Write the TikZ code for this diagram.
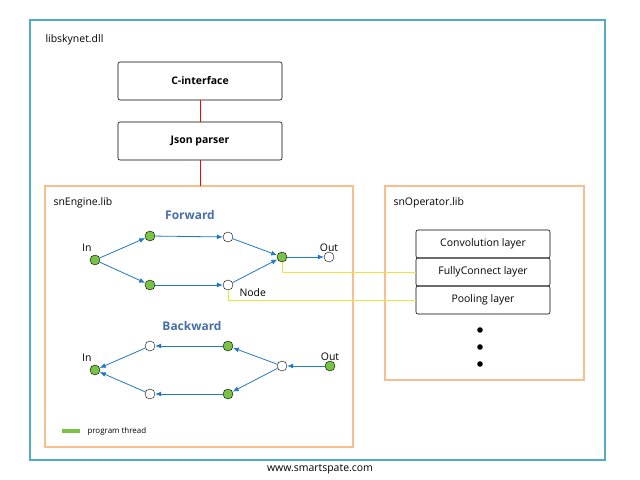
\documentclass[tikz,border=0pt]{standalone}
\usepackage{fontspec}
\setmainfont{Open Sans}
\usetikzlibrary{arrows.meta}
\definecolor{frameblue}{RGB}{80,170,205}
\definecolor{liborange}{RGB}{250,190,140}
\definecolor{arrowblue}{RGB}{30,120,200}
\definecolor{titleblue}{RGB}{70,110,170}
\definecolor{dotgreen}{RGB}{120,195,70}
\definecolor{wireyellow}{RGB}{240,225,60}
\newcommand{\lbl}{\fontsize{10.5}{12}\selectfont}
\tikzset{
  box/.style={draw=black, semithick, rounded corners=2pt, minimum width=164bp, minimum height=38bp, font=\bfseries\lbl},
  layer/.style={draw=black, semithick, rounded corners=2pt, minimum width=134bp, minimum height=28bp, font=\lbl},
  gnode/.style={circle, draw=black, fill=dotgreen, minimum size=10bp, inner sep=0pt},
  wnode/.style={circle, draw=black, fill=white, minimum size=10bp, inner sep=0pt},
  flow/.style={-{Latex[length=6bp,width=5bp]}, arrowblue, thick},
  lib/.style={draw=liborange, line width=2pt},
  wire/.style={wireyellow, line width=1pt}
}
\begin{document}
\begin{tikzpicture}[x=1bp,y=-1bp]
\useasboundingbox (0,0) rectangle (640,480);
% outer dll frame
\draw[frameblue, line width=2.5pt] (30,20) rectangle (605,460);
\node[anchor=west, font=\lbl] at (42,40) {libskynet.dll};
\node[box] (cif) at (200,81) {C-interface};
\node[box] (json) at (200,141) {Json parser};
% libraries
\draw[lib] (45,186) rectangle (353,447);
\coordinate (engtop) at (200,186);
\node[anchor=west, font=\lbl] at (50,203) {snEngine.lib};
\draw[lib] (385,186) rectangle (584,380);
\node[anchor=west, font=\lbl] at (390,203) {snOperator.lib};
\draw[red] (cif) -- (json);
\draw[red] (json) -- (engtop);
\node[layer] (conv) at (483,244) {Convolution layer};
\node[layer] (fc) at (483,272) {FullyConnect layer};
\node[layer] (pool) at (483,300) {Pooling layer};
\foreach \y in {330,347,364}
  \fill (480,\y) circle (2.8bp);
% forward graph
\node[font=\bfseries\large, text=titleblue] at (190,215) {Forward};
\node[gnode] (fin) at (95,260) {};
\node[font=\lbl, above left] at (fin.north) {In};
\node[gnode] (fa) at (150,236) {};
\node[wnode] (fb) at (228,237) {};
\node[gnode] (fc1) at (150,285) {};
\node[wnode] (fd) at (228,285) {};
\node[font=\lbl, anchor=west] at (236,293) {Node};
\node[gnode] (fj) at (282,257) {};
\node[wnode] (fout) at (329,257) {};
\node[font=\lbl, above] at ([yshift=-3bp]fout.north) {Out};
\draw[flow] (fin) -- (fa);
\draw[flow] (fin) -- (fc1);
\draw[flow] (fa) -- (fb);
\draw[flow] (fc1) -- (fd);
\draw[flow] (fb) -- (fj);
\draw[flow] (fd) -- (fj);
\draw[flow] (fj) -- (fout);
% links to operators
\draw[wire] (fj.south) |- (fc.west);
\draw[wire] (fd.south) |- (pool.west);
% backward graph
\node[font=\bfseries\large, text=titleblue] at (192,326) {Backward};
\node[gnode] (bin) at (95,370) {};
\node[font=\lbl, above left] at (bin.north) {In};
\node[wnode] (ba) at (150,346) {};
\node[gnode] (bb) at (228,346) {};
\node[wnode] (bc) at (150,394) {};
\node[gnode] (bd) at (228,394) {};
\node[wnode] (bj) at (282,366) {};
\node[gnode] (bout) at (330,366) {};
\node[font=\lbl, above] at ([yshift=-3bp]bout.north) {Out};
\draw[flow] (bout) -- (bj);
\draw[flow] (bj) -- (bb);
\draw[flow] (bj) -- (bd);
\draw[flow] (bb) -- (ba);
\draw[flow] (bd) -- (bc);
\draw[flow] (ba) -- (bin);
\draw[flow] (bc) -- (bin);
% legend
\draw[dotgreen, line width=4bp] (62,431) -- (80,431);
\node[anchor=west, font=\fontsize{8}{9}\selectfont] at (84,431) {program thread};
\node[font=\lbl] at (320,469) {www.smartspate.com};
\end{tikzpicture}
\end{document}
